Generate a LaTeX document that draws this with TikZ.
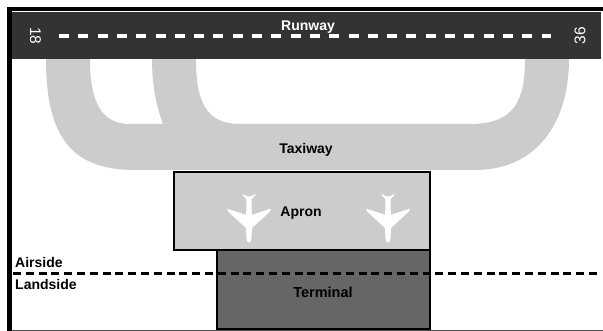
\documentclass[tikz,border=0pt]{standalone}
\usepackage{fontspec}
\setmainfont{Liberation Sans}
\usepackage{xcolor}
\usetikzlibrary{positioning,calc}

\definecolor{runwaygrey}{HTML}{333333}
\definecolor{taxigrey}{HTML}{CCCCCC}
\definecolor{termgrey}{HTML}{666666}

\tikzset{
    every node/.style={font=\fontsize{14}{16}\selectfont\bfseries},
    zonebox/.style={draw=black, line width=1.4pt},
    planeshape/.pic={
        \fill[white, rounded corners=0.6pt] (-1.5,-21.5) -- (-7,-24.5) -- (-6,-22.5) -- (-2.6,-19) -- (-2.8,-3)
            -- (-22,-9.5) -- (-21,-6.5) -- (-3,10) -- (-2.5,20) .. controls (-2,26) and (2,26) .. (2.5,20)
            -- (3,10) -- (21,-6.5) -- (22,-9.5) -- (2.8,-3) -- (2.6,-19) -- (6,-22.5) -- (7,-24.5) -- (1.5,-21.5)
            -- cycle;
    }
}

\begin{document}
\begin{tikzpicture}[x=1pt, y=-1pt]
\useasboundingbox (0,0) rectangle (603,331);

% Frame
\fill[black] (7,7) rectangle (603,11);
\fill[black] (7,7) rectangle (12,331);
\draw[line width=0.8pt, black!70] (12,330.5) -- (603,330.5);

% Taxiway
\fill[taxigrey] (46,59) .. controls (46,135) and (70,170) .. (135,170)
    -- (475,170) .. controls (535,170) and (569,125) .. (569,59)
    -- (525,59) .. controls (525,100) and (515,124) .. (470,124)
    -- (240,124) .. controls (205,124) and (196,100) .. (196,59)
    -- (152,59) .. controls (152,85) and (156,105) .. (163,124)
    -- (130,124) .. controls (100,124) and (90,100) .. (90,59) -- cycle;

% Runway
\fill[runwaygrey] (12,12) rectangle (601,59);
\draw[white, line width=3.4pt, dash pattern=on 10pt off 9.3pt] (59,36) -- (551,36);
\node[white, font=\fontsize{15.5}{17}\selectfont] (rwy18) at (35.5,36) [rotate=-90] {18};
\node[white, font=\fontsize{15.5}{17}\selectfont] (rwy36) at (580,36) [rotate=90] {36};
\node[white] (runway) at (308,27) {Runway};

% Apron and terminal
\filldraw[zonebox, fill=taxigrey] (174,172) rectangle (430,250);
\filldraw[zonebox, fill=termgrey] (217,250) rectangle (430,329);
\pic at (249,218) {planeshape};
\pic at (388,218) {planeshape};

% Airside / landside boundary
\draw[black, line width=2.6pt, dash pattern=on 8pt off 4.8pt] (13,273.5) -- (597,273.5);

% Labels
\node (taxiway) at (306,149.5) {Taxiway};
\node (apron) at (301,213) {Apron};
\node[font=\fontsize{14.5}{16}\selectfont\bfseries] (terminal) at (323,292) {Terminal};
\node[right, inner sep=0pt] (airside) at (15,262) {Airside};
\node[right, inner sep=0pt] (landside) at (15,284) {Landside};

\end{tikzpicture}
\end{document}
